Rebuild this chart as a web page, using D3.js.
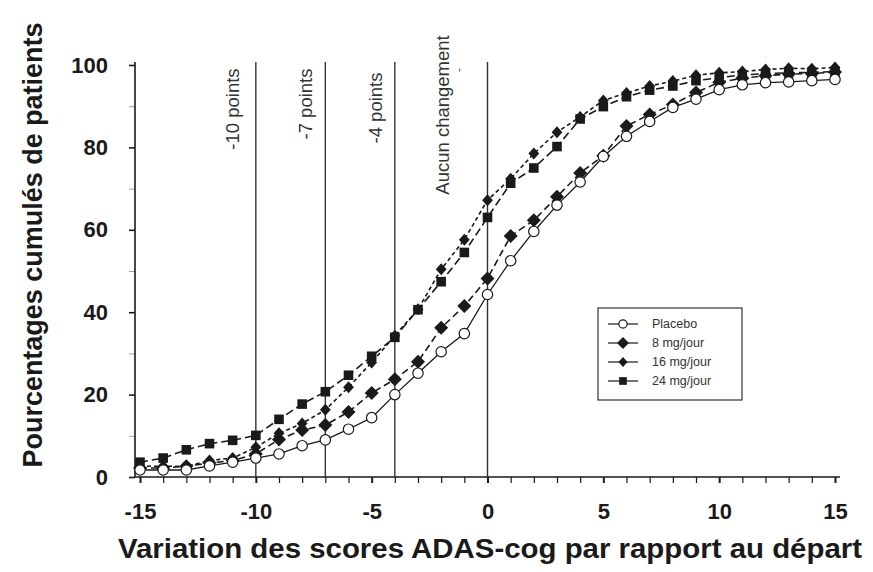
<!DOCTYPE html>
<html>
<head>
<meta charset="utf-8">
<script src="https://cdn.jsdelivr.net/npm/d3@7"></script>
<style>
  html, body { margin: 0; padding: 0; background: #fff; }
  svg { display: block; }
</style>
</head>
<body>
<svg id="chart" width="873" height="572"></svg>
<script>
// ---- Data ----
const xValues = [-15,-14,-13,-12,-11,-10,-9,-8,-7,-6,-5,-4,-3,-2,-1,0,1,2,3,4,5,6,7,8,9,10,11,12,13,14,15];
const placebo = [1.7,1.7,1.7,2.7,3.6,4.6,5.6,7.6,9,11.6,14.4,20,25.2,30.4,34.8,44.3,52.5,59.6,66,71.6,77.8,82.7,86.3,89.7,91.7,94,95.2,95.7,95.9,96.2,96.5];
const mg8 = [2.2,2.2,2.6,3.4,4,5.6,9.1,11.4,12.6,15.8,20.4,23.7,28,36.2,41.5,48.2,58.5,62.3,68,73.8,78,85.2,88,90.4,93.3,95.8,96.8,97.4,97.8,97.9,98.3];
const mg16 = [2.6,2.6,2.6,4,4.6,7.2,10.6,13,16.3,21.8,27.8,34.3,40.7,50.4,57.6,67.2,72.4,78.5,83.7,87.4,91.4,93.2,94.9,96.1,97.5,98.1,98.4,98.9,99.2,99.1,99.4];
const mg24 = [3.6,4.6,6.6,8.1,8.9,10.1,14,17.7,20.7,24.7,29.3,33.9,40.6,47.4,54.5,63,71.3,75,80.2,86.9,89.9,92.3,93.9,94.9,96.2,96.9,97.6,97.9,98.1,98.2,98.4];
const seriesNames = ["Placebo", "8 mg/jour", "16 mg/jour", "24 mg/jour"];
const refLines = [-10, -7, -4, 0];
const refLabels = ["-10 points", "-7 points", "-4 points", "Aucun changement"];
const xTicks = [-15, -10, -5, 0, 5, 10, 15];
const yTicks = [0, 20, 40, 60, 80, 100];
const xTitle = "Variation des scores ADAS-cog par rapport au départ";
const yTitle = "Pourcentages cumulés de patients";

// ---- Layout ----
const svg = d3.select("#chart");
const x = d3.scaleLinear().domain([-15, 15]).range([140, 835]);
const y = d3.scaleLinear().domain([0, 100]).range([477, 65]);
const axisX0 = 135, axisY0 = 477, topY = 62, rightX = 840;
const font = "'Liberation Sans', Arial, sans-serif";
const ink = "#1a1a1a";

// Axis lines
svg.append("line").attr("x1", axisX0).attr("x2", axisX0).attr("y1", topY).attr("y2", axisY0)
  .attr("stroke", ink).attr("stroke-width", 1.6);
svg.append("line").attr("x1", axisX0).attr("x2", rightX).attr("y1", axisY0).attr("y2", axisY0)
  .attr("stroke", ink).attr("stroke-width", 1.6);

// X ticks (every unit)
const xAxisMinor = d3.axisBottom(x).tickValues(d3.range(-15, 16)).tickSize(6).tickFormat("");
const gxm = svg.append("g").attr("transform", `translate(0,${axisY0})`).call(xAxisMinor);
gxm.select(".domain").remove();
gxm.selectAll(".tick line").attr("stroke", ink).attr("stroke-width", d => d % 5 === 0 ? 2 : 1.2);

const xAxis = d3.axisBottom(x).tickValues(xTicks).tickSize(0).tickPadding(26).tickFormat(d3.format("d"));
const gx = svg.append("g").attr("transform", `translate(0,${axisY0})`).call(xAxis);
gx.select(".domain").remove();
gx.selectAll(".tick text").attr("font-family", font)
  .attr("font-weight", "bold").attr("font-size", 22).attr("fill", ink)
  .text(d => d < 0 ? "-" + Math.abs(d) : d);

// Y ticks
const yAxisMinor = d3.axisLeft(y).tickValues(d3.range(0, 101, 10)).tickSize(6).tickFormat("");
const gym = svg.append("g").attr("transform", `translate(${axisX0},0)`).call(yAxisMinor);
gym.select(".domain").remove();
gym.selectAll(".tick line").attr("stroke", ink).attr("stroke-width", d => d % 20 === 0 ? 1.6 : 0.8)
  .attr("stroke-opacity", d => d % 20 === 0 ? 1 : 0.5);

const yAxis = d3.axisLeft(y).tickValues(yTicks).tickSize(0).tickPadding(27);
const gy = svg.append("g").attr("transform", `translate(${axisX0},0)`).call(yAxis);
gy.select(".domain").remove();
gy.selectAll(".tick text").attr("font-family", font)
  .attr("font-weight", "bold").attr("font-size", 22).attr("fill", ink);

// Axis titles
svg.append("text").attr("x", 490).attr("y", 558).attr("text-anchor", "middle")
  .attr("font-family", font).attr("font-weight", "bold")
  .attr("font-size", 28).attr("fill", ink)
  .attr("textLength", 744).attr("lengthAdjust", "spacingAndGlyphs")
  .text(xTitle);
svg.append("text").attr("transform", "translate(42,245) rotate(-90)").attr("text-anchor", "middle")
  .attr("font-family", font).attr("font-weight", "bold")
  .attr("font-size", 27).attr("fill", ink)
  .attr("textLength", 445).attr("lengthAdjust", "spacingAndGlyphs")
  .text(yTitle);

// Reference lines and labels
const labelCx = [232, 305, 375, 442];
const labelCy = [109, 104, 108, 115];
refLines.forEach((v, i) => {
  svg.append("line").attr("x1", x(v)).attr("x2", x(v)).attr("y1", topY).attr("y2", axisY0)
    .attr("stroke", "#333").attr("stroke-width", 1.4);
  svg.append("text")
    .attr("transform", `translate(${labelCx[i]},${labelCy[i]}) rotate(-90)`)
    .attr("text-anchor", "middle").attr("dominant-baseline", "central")
    .attr("font-family", font)
    .attr("font-size", 18.5).attr("fill", "#333")
    .text(refLabels[i]);
});
// small stray dash under "changement"
svg.append("text").attr("transform", "translate(458,70) rotate(-90)")
  .attr("text-anchor", "middle").attr("dominant-baseline", "central")
  .attr("font-family", font).attr("font-size", 13).attr("fill", "#555").text("-");

// Series
const seriesData = [placebo, mg8, mg16, mg24];
const dashes = [null, "7,4", "4,3", "8,4"];
const line = d3.line().x(d => x(d[0])).y(d => y(d[1]));

seriesData.forEach((vals, i) => {
  const pts = xValues.map((xv, j) => [xv, vals[j]]);
  svg.append("path").datum(pts).attr("d", line)
    .attr("fill", "none").attr("stroke", ink).attr("stroke-width", i === 0 ? 1.3 : 1.6)
    .attr("stroke-dasharray", dashes[i]);
});

function drawMarker(g, type, cx, cy, scale) {
  const s = scale || 1;
  if (type === 0) {
    g.append("circle").attr("cx", cx).attr("cy", cy).attr("r", 5.2 * s)
      .attr("fill", "#fff").attr("stroke", ink).attr("stroke-width", 1.2);
  } else if (type === 1) {
    const h = 7 * s;
    g.append("path").attr("d", `M${cx},${cy - h}L${cx + h},${cy}L${cx},${cy + h}L${cx - h},${cy}Z`)
      .attr("fill", ink);
  } else if (type === 2) {
    const h = 6 * s;
    g.append("path").attr("d", `M${cx},${cy - h}L${cx + h * 0.9},${cy}L${cx},${cy + h}L${cx - h * 0.9},${cy}Z`)
      .attr("fill", ink);
  } else {
    const h = 4.8 * s;
    g.append("rect").attr("x", cx - h).attr("y", cy - h).attr("width", 2 * h).attr("height", 2 * h)
      .attr("fill", ink);
  }
}

[3, 2, 1, 0].forEach(i => {
  const g = svg.append("g");
  xValues.forEach((xv, j) => drawMarker(g, i, x(xv), y(seriesData[i][j]), 1));
});

// Legend
const lg = svg.append("g");
lg.append("rect").attr("x", 598).attr("y", 308).attr("width", 144).attr("height", 92)
  .attr("fill", "#fff").attr("stroke", "#333").attr("stroke-width", 1.2);
const legY = [324, 343, 362, 381];
seriesNames.forEach((name, i) => {
  lg.append("line").attr("x1", 608).attr("x2", 638).attr("y1", legY[i]).attr("y2", legY[i])
    .attr("stroke", ink).attr("stroke-width", 1.2);
  drawMarker(lg, i, 623, legY[i], i === 0 ? 0.8 : (i === 3 ? 0.8 : 0.85));
  lg.append("text").attr("x", 652).attr("y", legY[i]).attr("dominant-baseline", "central")
    .attr("font-family", font).attr("font-size", 12.5)
    .attr("fill", "#333").text(name);
});
</script>
</body>
</html>
